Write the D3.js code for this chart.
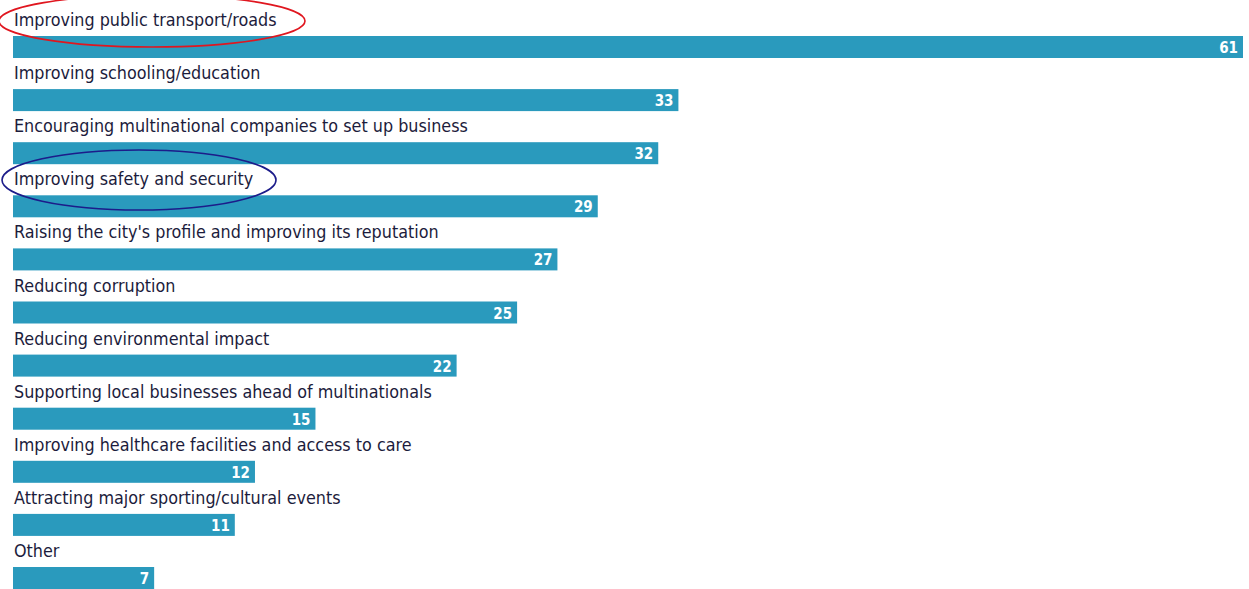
<!DOCTYPE html>
<html>
<head>
<meta charset="utf-8">
<script src="https://cdn.jsdelivr.net/npm/d3@7"></script>
<style>
  body { margin: 0; background: #fff; }
  .label { font-family: "DejaVu Sans Condensed", "DejaVu Sans", sans-serif; font-size: 17.8px; fill: #1c1c3c; }
  .value { font-family: "DejaVu Sans Condensed", "DejaVu Sans", sans-serif; font-size: 15px; font-weight: bold; fill: #fff; }
</style>
</head>
<body>
<div id="chart"></div>
<script>
// categories and their shares (%)
var categories = [
  "Improving public transport/roads",
  "Improving schooling/education",
  "Encouraging multinational companies to set up business",
  "Improving safety and security",
  "Raising the city's profile and improving its reputation",
  "Reducing corruption",
  "Reducing environmental impact",
  "Supporting local businesses ahead of multinationals",
  "Improving healthcare facilities and access to care",
  "Attracting major sporting/cultural events",
  "Other"
];
var values = [61, 33, 32, 29, 27, 25, 22, 15, 12, 11, 7];

// which labels get a hand-drawn circle round them
var highlights = [
  {index: 0, color: "#e0161f"},
  {index: 3, color: "#1c1c8a"}
];

var width = 1249, height = 589;

var svg = d3.select("#chart").append("svg")
    .attr("width", width)
    .attr("height", height);

// x: value -> bar length
var x = d3.scaleLinear().domain([0, 61]).range([13, 1243]);

// each row = label line + bar
var row = d3.scaleBand()
    .domain(d3.range(categories.length))
    .range([3, 3 + 53.1 * categories.length])
    .paddingInner(0);

var barTop = 33, barH = 22;

var rows = svg.selectAll("g.row")
    .data(values)
    .enter().append("g")
    .attr("class", "row")
    .attr("transform", (d, i) => "translate(0," + row(i) + ")");

rows.append("text")
    .attr("class", "label")
    .attr("x", 14)
    .attr("y", 23)
    .text((d, i) => categories[i]);

rows.append("rect")
    .attr("x", x(0))
    .attr("y", barTop)
    .attr("width", d => x(d) - x(0))
    .attr("height", barH)
    .attr("fill", "#2a9abd");

rows.append("text")
    .attr("class", "value")
    .attr("x", d => x(d) - 5)
    .attr("y", barTop + 17)
    .attr("text-anchor", "end")
    .text(d => d);

// ellipses drawn around highlighted labels
var ellipseSize = {0: {cx: 152, cy: 21, rx: 153, ry: 26}, 3: {cx: 139, cy: 180, rx: 137, ry: 30}};
svg.selectAll("ellipse")
    .data(highlights)
    .enter().append("ellipse")
    .attr("cx", d => ellipseSize[d.index].cx)
    .attr("cy", d => ellipseSize[d.index].cy)
    .attr("rx", d => ellipseSize[d.index].rx)
    .attr("ry", d => ellipseSize[d.index].ry)
    .attr("fill", "none")
    .attr("stroke", d => d.color)
    .attr("stroke-width", 1.6);
</script>
</body>
</html>
